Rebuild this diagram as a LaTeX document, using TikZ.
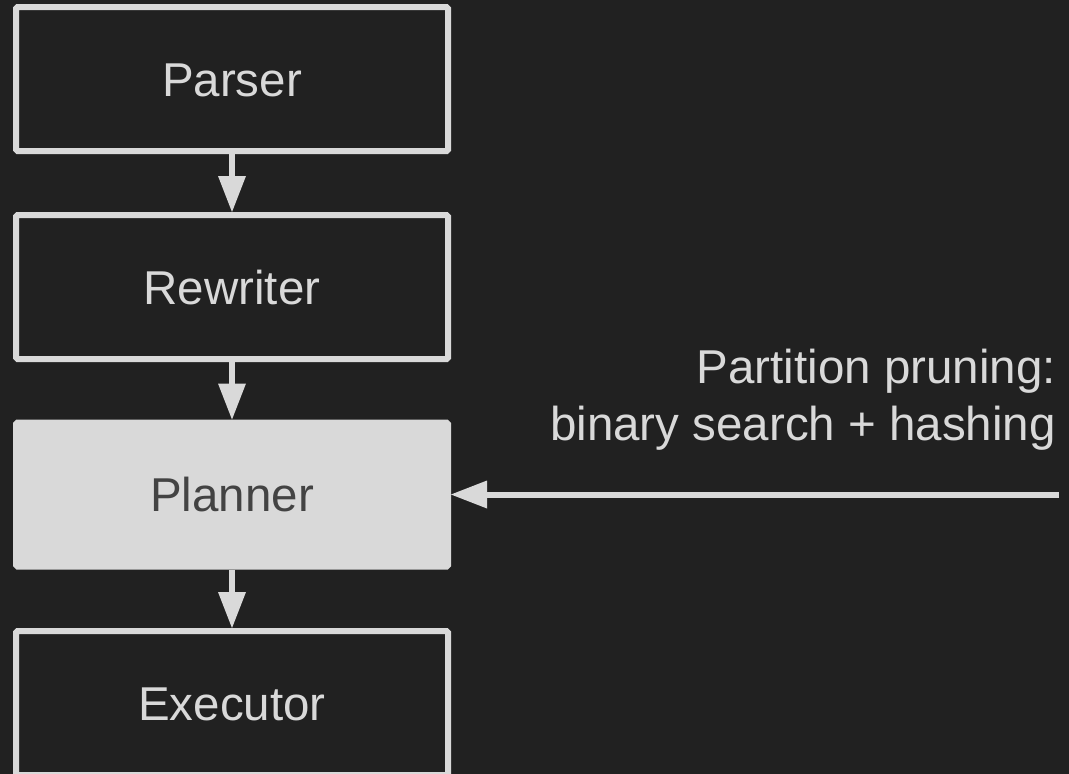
\documentclass[tikz,border=0pt]{standalone}
\usepackage{fontspec}
\setmainfont{Liberation Sans}
\usetikzlibrary{arrows.meta}
\definecolor{bgdark}{HTML}{212121}
\definecolor{lightline}{HTML}{D9D9D9}
\definecolor{darktext}{HTML}{434343}
\tikzset{
  stage/.style={draw=lightline, line width=6pt, rectangle, rounded corners=1.5pt,
    minimum width=432pt, minimum height=144pt, inner sep=0pt,
    text=lightline, font=\fontsize{47.5}{57}\selectfont,
    text height=34pt, text depth=0pt},
  activestage/.style={stage, fill=lightline, text=darktext},
  flow/.style={draw=lightline, line width=6pt,
    -{Triangle[length=36pt, width=28pt, line width=0pt]}},
  note/.style={text=lightline, font=\fontsize{47.5}{57}\selectfont,
    align=right, inner sep=0pt}
}
\begin{document}
\begin{tikzpicture}[x=1pt, y=-1pt]
  \fill[bgdark] (0,0) rectangle (1069,774);
  \useasboundingbox (0,0) rectangle (1069,774);

  \node[stage] (parser) at (232,79) {Parser};
  \node[stage] (rewriter) at (232,287) {Rewriter};
  \node[activestage] (planner) at (232,494.5) {Planner};
  \node[stage] (executor) at (232,703) {Executor};

  \draw[flow] (parser) -- (rewriter);
  \draw[flow] (rewriter) -- (planner);
  \draw[flow] (planner) -- (executor);

  \coordinate (hint) at (1059,494.5);
  \draw[flow] (hint) -- (planner.east);

  \node[note, anchor=south east] (prune) at (1056,451)
    {Partition pruning:\\binary search + hashing};
\end{tikzpicture}
\end{document}
